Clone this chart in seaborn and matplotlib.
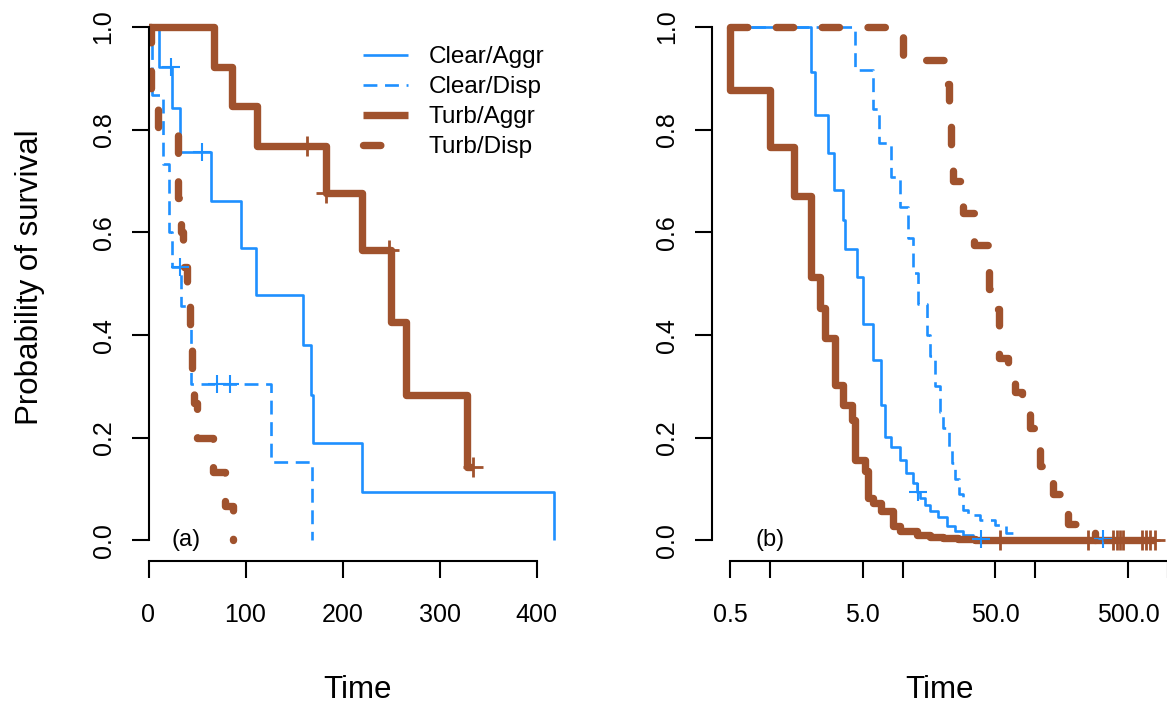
import numpy as np
import pandas as pd
import matplotlib
matplotlib.use("Agg")
import matplotlib.pyplot as plt
import seaborn as sns

sns.set_theme(style="ticks")
plt.rcParams['font.family'] = ['Liberation Sans', 'DejaVu Sans']
plt.rcParams['lines.scale_dashes'] = False
plt.rcParams['axes.edgecolor'] = 'black'
plt.rcParams['xtick.color'] = 'black'
plt.rcParams['ytick.color'] = 'black'
plt.rcParams['text.color'] = 'black'
plt.rcParams['axes.labelcolor'] = 'black'
plt.rcParams['xtick.labelcolor'] = 'black'
plt.rcParams['ytick.labelcolor'] = 'black'

BLUE = '#1E90FF'
BROWN = '#A0522D'

labels = ["Clear/Aggr", "Clear/Disp", "Turb/Aggr", "Turb/Disp"]

# ---------------- Panel (a): linear time ----------------
a_ca_t = [0, 10.6, 24.3, 32, 64.6, 95, 111, 159, 167.5, 169.5, 220, 418]
a_ca_s = [1.0, 0.923, 0.842, 0.757, 0.661, 0.569, 0.478, 0.380, 0.284, 0.189, 0.095, 0.0]
a_ca_ct = [23.4, 55.3]
a_ca_cs = [0.923, 0.757]

a_cd_t = [0, 4, 14.5, 21, 24.6, 34, 44, 126.5, 168.7]
a_cd_s = [1.0, 0.867, 0.733, 0.600, 0.533, 0.457, 0.305, 0.152, 0.0]
a_cd_ct = [32, 70.5, 83.5]
a_cd_cs = [0.533, 0.305, 0.305]

a_ta_t = [0, 67, 86, 112, 183, 220, 250, 265, 328, 334]
a_ta_s = [1.0, 0.923, 0.846, 0.769, 0.676, 0.565, 0.426, 0.283, 0.143, 0.143]
a_ta_ct = [163.6, 183, 247.6, 334]
a_ta_cs = [0.769, 0.676, 0.565, 0.143]

a_td_t = [0, 3, 10, 30, 34, 36, 40, 43, 45, 47, 50, 66, 79, 87]
a_td_s = [1.0, 0.867, 0.800, 0.667, 0.600, 0.533, 0.467, 0.400, 0.333, 0.267, 0.200, 0.133, 0.067, 0.0]
a_td_ct = []
a_td_cs = []

# ---------------- Panel (b): log time ----------------
b_ca_t = [0.5, 2.03, 2.2, 2.75, 3.05, 3.57, 3.68, 4.5, 5.05, 6.0, 6.9, 7.35, 8.2, 9.6,
          10.7, 12.0, 12.8, 13.5, 14.8, 16.1, 18.5, 21.5, 25.0, 28.6, 33.8, 322]
b_ca_s = [1.0, 0.913, 0.828, 0.754, 0.682, 0.624, 0.567, 0.513, 0.422, 0.351, 0.263, 0.201, 0.182, 0.156,
          0.131, 0.111, 0.094, 0.083, 0.070, 0.058, 0.045, 0.029, 0.018, 0.010, 0.003, 0.003]
b_ca_ct = [13.1, 39, 322]
b_ca_cs = [0.094, 0.003, 0.003]

b_cd_t = [0.5, 4.4, 6.0, 6.6, 8.2, 9.6, 11.0, 12.0, 13.0, 15.2, 16.1, 17.5, 19.2, 20.3,
          22.2, 23.5, 24.8, 26.5, 28.6, 31, 38, 50, 60, 70]
b_cd_s = [1.0, 0.916, 0.84, 0.774, 0.708, 0.65, 0.59, 0.52, 0.46, 0.40, 0.36, 0.30, 0.25, 0.22,
          0.18, 0.15, 0.12, 0.09, 0.06, 0.05, 0.039, 0.03, 0.015, 0.0]
b_cd_ct = []
b_cd_cs = []

b_ta_t = [0.5, 0.5, 1.0, 1.52, 2.03, 2.38, 2.6, 3.1, 3.57, 4.13, 4.38, 5.2, 5.5, 6.0, 6.9,
          8.5, 9.6, 12.8, 16, 20, 26, 35, 801]
b_ta_s = [1.0, 0.877, 0.767, 0.670, 0.513, 0.452, 0.394, 0.302, 0.263, 0.234, 0.156, 0.136, 0.082, 0.072, 0.058,
          0.029, 0.019, 0.010, 0.006, 0.004, 0.002, 0.001, 0.001]
b_ta_ct = [54, 248, 385, 413, 434, 456, 633, 679, 727, 801]
b_ta_cs = [0.001] * 10

b_td_t = [0.5, 10.1, 21.5, 22.2, 23.3, 23.8, 28.6, 34.4, 44.6, 46, 53, 62, 70, 80, 91,
          100, 108, 125, 136, 160, 176, 236, 281]
b_td_s = [1.0, 0.936, 0.89, 0.85, 0.77, 0.70, 0.637, 0.575, 0.49, 0.45, 0.355, 0.33, 0.29, 0.26, 0.22,
          0.185, 0.146, 0.12, 0.09, 0.058, 0.033, 0.016, 0.0]
b_td_ct = []
b_td_cs = []

a_xticks = [0, 100, 200, 300, 400]
b_xticks = [0.5, 1, 5, 10, 50, 100, 500, 1000]
b_xticklabels = ["0.5", "", "5.0", "", "50.0", "", "500.0", ""]
yticks = [0.0, 0.2, 0.4, 0.6, 0.8, 1.0]
yticklabels = ["0.0", "0.2", "0.4", "0.6", "0.8", "1.0"]

# styles: (color, linewidth, linestyle, capstyle, marker size, marker edge width)
styles = [
    (BLUE, 1.9, '-', 'butt', 13, 1.5),
    (BLUE, 1.9, (0, (10, 5.5)), 'butt', 13, 1.5),
    (BROWN, 5.3, '-', 'butt', 14, 2.0),
    (BROWN, 5.3, (0, (12.5, 20.5)), 'round', 14, 2.0),
]

W, H = 1167, 704
fig = plt.figure(figsize=(W / 100, H / 100), dpi=100)
bottom = 1 - 561 / H
height = 554.5 / H
axA = fig.add_axes([148.5 / W, bottom, (572.5 - 148.5) / W, height])
axB = fig.add_axes([712 / W, bottom, (1172 - 712) / W, height])
axB.set_xscale('log')


def draw(ax, t, s, ct, cs, style, label):
    color, lw, ls, cap, ms, mew = style
    df = pd.DataFrame({"time": t, "surv": s})
    sns.lineplot(data=df, x="time", y="surv", ax=ax, estimator=None, sort=False,
                 drawstyle="steps-post", color=color, linewidth=lw, linestyle=ls,
                 dash_capstyle=cap, solid_capstyle='butt', label=label)
    if len(ct):
        cdf = pd.DataFrame({"time": ct, "surv": cs})
        sns.scatterplot(data=cdf, x="time", y="surv", ax=ax, marker='+', s=ms ** 2,
                        color=color, linewidth=mew, legend=False, zorder=3)


series_a = [(a_ca_t, a_ca_s, a_ca_ct, a_ca_cs), (a_cd_t, a_cd_s, a_cd_ct, a_cd_cs),
            (a_ta_t, a_ta_s, a_ta_ct, a_ta_cs), (a_td_t, a_td_s, a_td_ct, a_td_cs)]
series_b = [(b_ca_t, b_ca_s, b_ca_ct, b_ca_cs), (b_cd_t, b_cd_s, b_cd_ct, b_cd_cs),
            (b_ta_t, b_ta_s, b_ta_ct, b_ta_cs), (b_td_t, b_td_s, b_td_ct, b_td_cs)]

for (t, s, ct, cs), st, lab in zip(series_a, styles, labels):
    draw(axA, t, s, ct, cs, st, lab)
for (t, s, ct, cs), st in zip(series_b, styles):
    draw(axB, t, s, ct, cs, st, None)

for ax in (axA, axB):
    ax.set_ylim(-0.04, 1.04)
    ax.set_yticks(yticks)
    ax.set_yticklabels(yticklabels)
    ax.spines['top'].set_visible(False)
    ax.spines['right'].set_visible(False)
    ax.spines['left'].set_bounds(0, 1)
    ax.spines['left'].set_linewidth(1.5)
    ax.spines['bottom'].set_linewidth(1.5)
    ax.set_xlabel("")
    ax.set_ylabel("")
    ax.tick_params(axis='both', direction='out', length=12.2, width=1.5, labelsize=18,
                   labelcolor='black', color='black')
    ax.tick_params(axis='x', pad=18)
    ax.tick_params(axis='y', pad=11.5, labelrotation=90)
    for lbl in ax.get_yticklabels():
        lbl.set_va('center')
        lbl.set_ha('right')
    ax.set_facecolor('white')

axA.set_xlim(0, 437)
axA.set_xticks(a_xticks)
axA.set_xticklabels([str(v) for v in a_xticks])
axA.spines['bottom'].set_bounds(0, 400)

axB.set_xlim(0.366, 1073)
axB.set_xticks(b_xticks)
axB.set_xticklabels(b_xticklabels)
axB.xaxis.set_minor_locator(matplotlib.ticker.NullLocator())
axB.spines['bottom'].set_bounds(0.5, 1000)

axA.text(39, 0.0, "(a)", fontsize=17, ha='center', va='center', color='black')
axB.text(1.0, 0.0, "(b)", fontsize=17, ha='center', va='center', color='black')

leg = axA.legend(loc='upper left', bbox_to_anchor=(363 / W, 1 - 46 / H),
                 bbox_transform=fig.transFigure, frameon=False, fontsize=17.5,
                 handlelength=1.85, handletextpad=0.85, labelspacing=0.33,
                 borderpad=0, borderaxespad=0)
for txt in leg.get_texts():
    txt.set_color('black')

fig.text(30 / W, 1 - 277 / H, "Probability of survival", rotation=90,
         ha='center', va='center', fontsize=22.5, color='black')
fig.text(357 / W, 1 - 690 / H, "Time", ha='center', va='center', fontsize=22.5, color='black')
fig.text(940 / W, 1 - 690 / H, "Time", ha='center', va='center', fontsize=22.5, color='black')

fig.savefig("out.png", dpi=100, facecolor='white')
